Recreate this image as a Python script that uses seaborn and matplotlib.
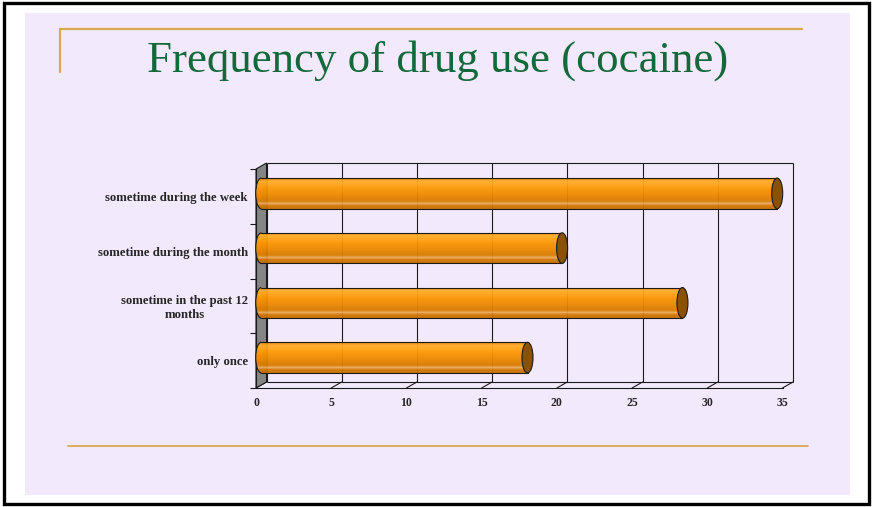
import numpy as np
import matplotlib
matplotlib.use("Agg")
import matplotlib.pyplot as plt
from matplotlib.patches import Rectangle, Ellipse, Arc, Polygon
from matplotlib.lines import Line2D
from matplotlib.transforms import ScaledTranslation
import seaborn as sns

# ---- data ----
categories = [
    "sometime during the week",
    "sometime during the month",
    "sometime in the past 12\nmonths",
    "only once",
]
values = [34.3, 20.0, 28.0, 17.7]
x_ticks = [0, 5, 10, 15, 20, 25, 30, 35]
title = "Frequency of drug use (cocaine)"

sns.set_theme(style="white")
plt.rcParams["font.family"] = ["Liberation Serif", "DejaVu Serif"]

W, H = 875, 507
DPI = 100
fig = plt.figure(figsize=(W / DPI, H / DPI), dpi=DPI)
fig.patch.set_facecolor("white")


def fx(x):
    return x / W


def fy(y):
    return 1 - y / H


# slide frame and lavender panel
fig.patches.append(Rectangle((fx(25), fy(495)), fx(850) - fx(25), fy(13) - fy(495),
                             transform=fig.transFigure, facecolor="#F2EAFC",
                             edgecolor="none", zorder=-2))
fig.patches.append(Rectangle((fx(3.5), fy(503.5)), fx(868.5) - fx(3.5), fy(3) - fy(503.5),
                             transform=fig.transFigure, facecolor="none",
                             edgecolor="black", linewidth=2.4, zorder=-1))

gold = "#D9A94E"
fig.lines.append(Line2D([fx(60), fx(802)], [fy(29), fy(29)], transform=fig.transFigure,
                        color=gold, linewidth=1.6, zorder=-1))
fig.lines.append(Line2D([fx(60), fx(60)], [fy(29), fy(72)], transform=fig.transFigure,
                        color=gold, linewidth=1.6, zorder=-1))
fig.lines.append(Line2D([fx(68), fx(808)], [fy(446), fy(446)], transform=fig.transFigure,
                        color=gold, linewidth=1.3, zorder=-1))

fig.text(fx(438), fy(72), title, ha="center", va="baseline", fontsize=32.3,
         color="#14693A", family=["Liberation Serif", "DejaVu Serif"])

# ---- chart (front plane of the pseudo-3D box) ----
x0p, x1p, y0p, y1p = 256, 782.5, 169, 388
ax = fig.add_axes([fx(x0p), fy(y1p), fx(x1p) - fx(x0p), fy(y0p) - fy(y1p)])
ax.set_facecolor("none")

bar_h = 0.56
sns.barplot(x=values, y=categories, orient="h", width=bar_h, color="#F39200",
            edgecolor="none", ax=ax)
bars = list(ax.patches)

ax.set_xlim(0, 35)
ax.set_ylim(3.5, -0.5)

ppx = (x1p - x0p) / 35.0
ppy = (y1p - y0p) / 4.0
depth_x, depth_y = 10.5, 6.0          # back wall offset in pixels
dxd, dyd = depth_x / ppx, -depth_y / ppy

back = ax.transData + ScaledTranslation(depth_x / DPI, depth_y / DPI, fig.dpi_scale_trans)
mid = ax.transData + ScaledTranslation(depth_x / 2 / DPI, depth_y / 2 / DPI, fig.dpi_scale_trans)

lc = "#1a1a1a"
# back wall grid and edges
ax.vlines(x_ticks, -0.5, 3.5, transform=back, color=lc, linewidth=0.8, zorder=1,
          clip_on=False)
ax.hlines([-0.5, 3.5], 0, 35, transform=back, color=lc, linewidth=0.8, zorder=1,
          clip_on=False)
# floor depth lines
for t in x_ticks:
    ax.plot([t, t + dxd], [3.5, 3.5 + dyd], color=lc, linewidth=0.8, zorder=1,
            clip_on=False)
# left side wall
ax.add_patch(Polygon([(0, -0.5), (dxd, -0.5 + dyd), (dxd, 3.5 + dyd), (0, 3.5)],
                     closed=True, facecolor="#858585", edgecolor=lc, linewidth=0.8,
                     zorder=1.5, clip_on=False))

# cylinder shading (top to bottom)
shade = np.array([
    [0.93, 0.55, 0.05],
    [1.00, 0.68, 0.15],
    [1.00, 0.66, 0.12],
    [1.00, 0.63, 0.07],
    [0.99, 0.60, 0.02],
    [0.97, 0.58, 0.00],
    [0.95, 0.56, 0.00],
    [0.93, 0.54, 0.00],
    [0.90, 0.52, 0.00],
    [0.87, 0.50, 0.00],
    [0.85, 0.49, 0.00],
    [0.92, 0.66, 0.36],
    [0.83, 0.47, 0.00],
    [0.78, 0.44, 0.00],
])
grad = shade[:, None, :]
cap_w = 11.0 / ppx

for p in bars:
    v = p.get_width()
    yc = p.get_y() + p.get_height() / 2
    h = p.get_height()
    p.set_transform(mid)
    p.set_facecolor("none")
    p.set_zorder(2)
    p.set_clip_on(False)
    im = ax.imshow(grad, extent=(0, v, yc + h / 2, yc - h / 2), origin="upper",
                   aspect="auto", transform=mid, zorder=2, alpha=0.95, interpolation="bilinear")
    im.set_clip_path(p)
    left = Ellipse((0, yc), cap_w, h, transform=mid, facecolor="none", edgecolor="none",
                   clip_on=False)
    ax.add_patch(left)
    im2 = ax.imshow(grad, extent=(-cap_w / 2, 0, yc + h / 2, yc - h / 2), origin="upper",
                    aspect="auto", transform=mid, zorder=2, interpolation="bilinear")
    im2.set_clip_path(left)
    ax.plot([0, v], [yc - h / 2, yc - h / 2], transform=mid, color=lc, linewidth=0.8,
            zorder=3, clip_on=False)
    ax.plot([0, v], [yc + h / 2, yc + h / 2], transform=mid, color=lc, linewidth=0.8,
            zorder=3, clip_on=False)
    ax.add_patch(Arc((0, yc), cap_w, h, theta1=90, theta2=270, transform=mid,
                     edgecolor=lc, linewidth=0.8, zorder=3, clip_on=False))
    ax.add_patch(Ellipse((v, yc), cap_w, h, transform=mid, facecolor="#8A5200",
                         edgecolor=lc, linewidth=0.8, zorder=4, clip_on=False))

ax.set_xlim(0, 35)
ax.set_ylim(3.5, -0.5)

for side in ["top", "right"]:
    ax.spines[side].set_visible(False)
for side in ["left", "bottom"]:
    ax.spines[side].set_visible(True)
    ax.spines[side].set_color(lc)
    ax.spines[side].set_linewidth(0.8)
    ax.spines[side].set_zorder(1.6)

ax.set_xticks(x_ticks)
ax.set_xticklabels([str(t) for t in x_ticks])
ax.set_yticks([-0.5, 0.5, 1.5, 2.5, 3.5], minor=True)
ax.tick_params(axis="y", which="minor", length=4.3, width=0.8, color=lc, direction="out", left=True)
ax.tick_params(axis="y", which="major", length=0, pad=5.8)
ax.tick_params(axis="x", which="major", length=0, pad=6.5)
ax.set_xlabel("")
ax.set_ylabel("")
for lab in ax.get_yticklabels():
    lab.set_fontsize(9.2)
    lab.set_fontweight("bold")
    lab.set_multialignment("center")
    lab.set_color("#262626")
for lab in ax.get_xticklabels():
    lab.set_fontsize(8.5)
    lab.set_fontweight("bold")
    lab.set_color("#262626")
ax.grid(False)

fig.savefig("out.png", dpi=DPI)
